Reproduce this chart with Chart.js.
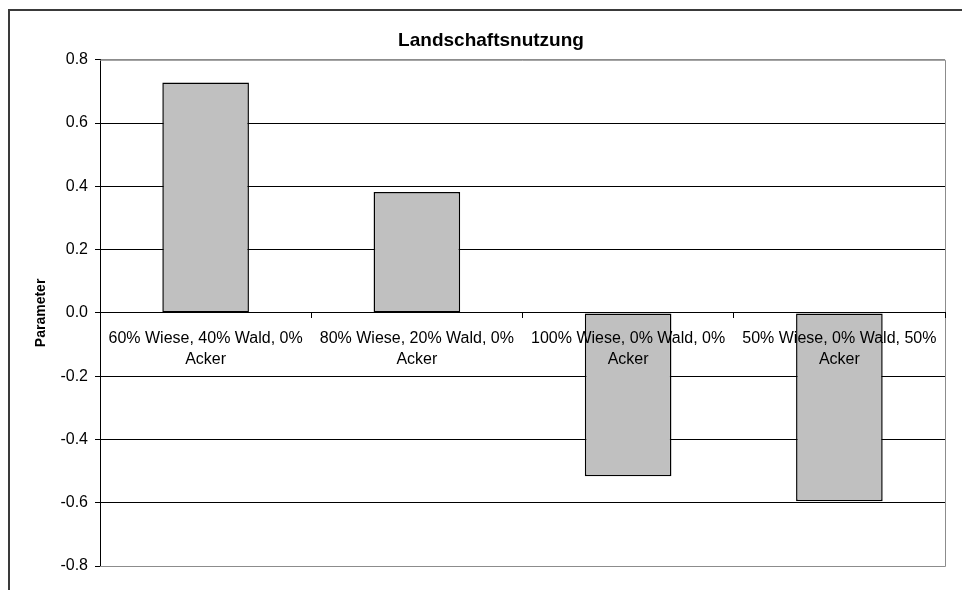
<!DOCTYPE html>
<html>
<head>
<meta charset="utf-8">
<script src="https://cdn.jsdelivr.net/npm/chart.js@4"></script>
<style>
  html, body { margin: 0; padding: 0; background: #fff; overflow: hidden; width: 962px; height: 590px; }
  #frame { position: absolute; left: 8px; top: 9px; border: 2px solid #3a3a3a; width: 970px; height: 640px; background:#fff; }
  canvas { display: block; }
</style>
</head>
<body>
<div id="frame"><canvas id="c" width="962" height="620"></canvas></div>
<script>
const chartTitle = "Landschaftsnutzung";
const yAxisTitle = "Parameter";
const categories = [
  ["60% Wiese, 40% Wald, 0%", "Acker"],
  ["80% Wiese, 20% Wald, 0%", "Acker"],
  ["100% Wiese, 0% Wald, 0%", "Acker"],
  ["50% Wiese, 0% Wald, 50%", "Acker"]
];
const values = [0.728, 0.382, -0.516, -0.595];
const yMin = -0.8, yMax = 0.8, yStep = 0.2;

const FONT = '"Liberation Sans", Arial, sans-serif';

const plotBorder = {
  id: 'plotBorder',
  beforeDatasetsDraw(chart) {
    const {ctx, chartArea: a} = chart;
    ctx.save();
    ctx.strokeStyle = '#8c8c8c';
    ctx.lineWidth = 1;
    ctx.beginPath();
    ctx.moveTo(a.left, a.top + 0.5);
    ctx.lineTo(Math.round(a.right) + 0.5, a.top + 0.5);
    ctx.lineTo(Math.round(a.right) + 0.5, Math.round(a.bottom) + 0.5);
    ctx.lineTo(a.left, Math.round(a.bottom) + 0.5);
    ctx.stroke();
    ctx.restore();
  }
};

new Chart(document.getElementById('c'), {
  type: 'bar',
  data: {
    labels: categories,
    datasets: [{
      data: values,
      backgroundColor: '#C0C0C0',
      borderColor: '#000',
      borderWidth: 1.5,
      borderSkipped: false,
      categoryPercentage: 1,
      barPercentage: 0.41
    }]
  },
  plugins: [plotBorder],
  options: {
    responsive: false,
    animation: false,
    devicePixelRatio: 1,
    layout: { padding: { left: 0, right: 0, top: 0, bottom: 65 } },
    plugins: {
      legend: { display: false },
      tooltip: { enabled: false },
      title: {
        display: true,
        text: chartTitle,
        color: '#000',
        font: { family: FONT, size: 19, weight: 'bold' },
        padding: { top: 18, bottom: 8 }
      }
    },
    scales: {
      x: {
        type: 'category',
        position: { y: 0 },
        offset: true,
        grid: { offset: true, drawOnChartArea: false, drawTicks: true, tickLength: 5, color: '#000', tickColor: '#000', z: 1 },
        border: { display: true, color: '#000', width: 1, z: 1 },
        ticks: {
          z: 2,
          autoSkip: false, maxRotation: 0, minRotation: 0,
          color: '#000', padding: 10,
          font: { family: FONT, size: 16, lineHeight: 1.3 }
        }
      },
      y: {
        min: yMin, max: yMax,
        afterFit(scale) { scale.width = 90; },
        grid: {
          color: (ctx) => (ctx.tick && Math.abs(ctx.tick.value) > 0.79) ? '#8c8c8c' : '#000',
          tickColor: '#000',
          tickLength: 5,
          drawTicks: true
        },
        border: { display: true, color: '#000', width: 1 },
        ticks: {
          stepSize: yStep,
          color: '#000',
          padding: 7,
          font: { family: FONT, size: 16 },
          callback: (v) => Number(v).toFixed(1)
        },
        title: {
          display: true,
          text: yAxisTitle,
          color: '#000',
          font: { family: FONT, size: 14, weight: 'bold' },
          padding: { top: 23, bottom: 0 }
        }
      },
      rightSpace: {
        type: 'linear',
        position: 'right',
        min: 0, max: 1,
        afterFit(scale) { scale.width = 27; },
        grid: { display: false, drawTicks: false },
        border: { display: false },
        ticks: { display: false }
      }
    }
  }
});
</script>
</body>
</html>
